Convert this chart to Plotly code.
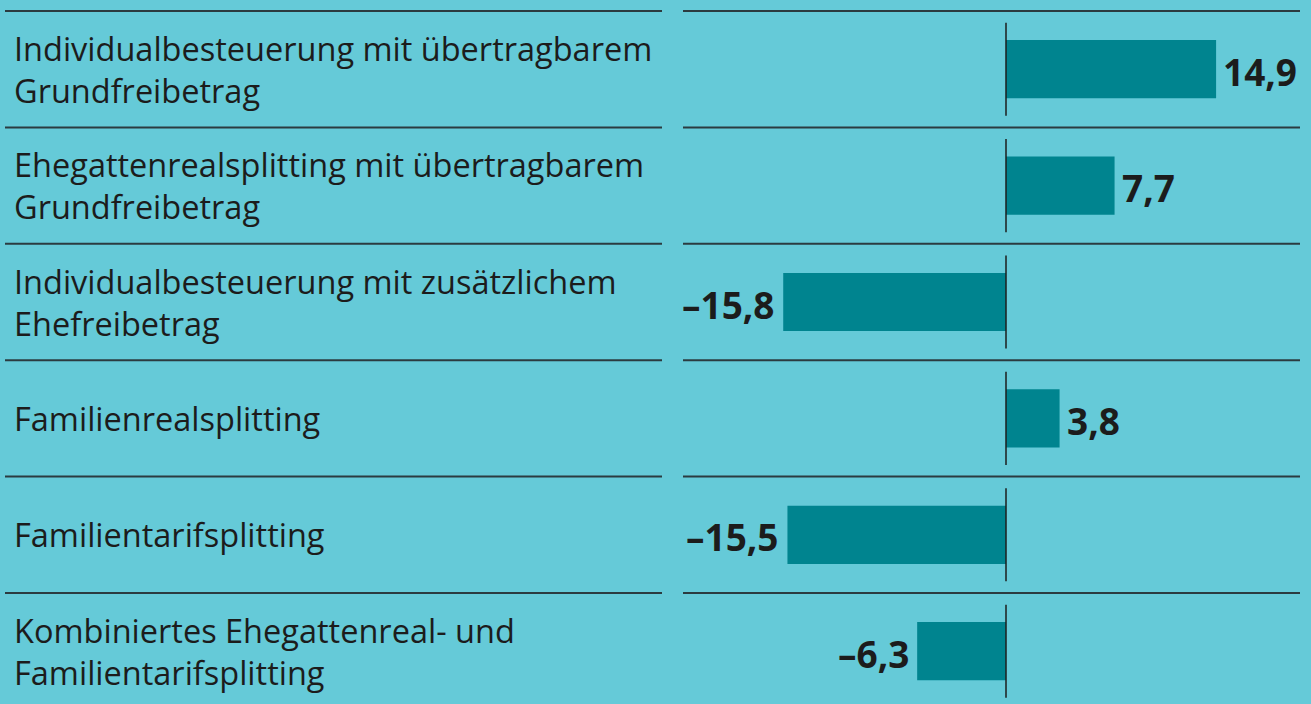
import plotly.graph_objects as go

categories = [
    "Individualbesteuerung mit übertragbarem<br>Grundfreibetrag",
    "Ehegattenrealsplitting mit übertragbarem<br>Grundfreibetrag",
    "Individualbesteuerung mit zusätzlichem<br>Ehefreibetrag",
    "Familienrealsplitting",
    "Familientarifsplitting",
    "Kombiniertes Ehegattenreal- und<br>Familientarifsplitting",
]
values = [14.9, 7.7, -15.8, 3.8, -15.5, -6.3]

BG = "#65CAD8"
BAR = "#00848F"
INK = "#1c1c1c"
LINE = "#2b3b40"
W, H = 1311, 704
PX_PER_UNIT = 14.1
ZERO_PX = 1006
ROW_H = 116.4
FIRST_CENTER = 69.2

def fmt(v):
    return f"{v:.1f}".replace(".", ",").replace("-", "\u2013")

idx = list(range(len(values)))

fig = go.Figure()
fig.add_trace(go.Bar(
    x=values, y=idx, orientation="h",
    marker=dict(color=BAR, line=dict(width=0)),
    width=0.5, hoverinfo="skip",
))

annotations = []
shapes = []
for i, (cat, v) in enumerate(zip(categories, values)):
    annotations.append(dict(
        x=12 / W, xref="paper", y=i, yref="y", text=cat, showarrow=False,
        xanchor="left", yanchor="middle", align="left",
        font=dict(family="Open Sans", size=32.5, color=INK),
    ))
    annotations.append(dict(
        x=v, xref="x", y=i, yref="y", text=f"<b>{fmt(v)}</b>", showarrow=False,
        xanchor="left" if v >= 0 else "right", yanchor="middle",
        xshift=5 if v >= 0 else -6, yshift=-2,
        font=dict(family="Open Sans", size=37, color=INK),
    ))
    shapes.append(dict(type="line", xref="x", yref="y", x0=0, x1=0,
                       y0=i - 0.4, y1=i + 0.4, line=dict(color=INK, width=1.5)))

for i in range(len(values) + 1):
    yb = i - 0.5
    shapes.append(dict(type="line", xref="paper", yref="y", x0=5 / W, x1=662 / W,
                       y0=yb, y1=yb, line=dict(color=LINE, width=2)))
    shapes.append(dict(type="line", xref="paper", yref="y", x0=683 / W, x1=1300 / W,
                       y0=yb, y1=yb, line=dict(color=LINE, width=2)))

x_min = -ZERO_PX / PX_PER_UNIT
x_max = (W - ZERO_PX) / PX_PER_UNIT
y_top = (0 - FIRST_CENTER) / ROW_H
y_bot = (H - FIRST_CENTER) / ROW_H

fig.update_layout(
    width=W, height=H,
    margin=dict(l=0, r=0, t=0, b=0),
    paper_bgcolor=BG, plot_bgcolor=BG,
    showlegend=False,
    xaxis=dict(range=[x_min, x_max], visible=False, fixedrange=True),
    yaxis=dict(range=[y_bot, y_top], visible=False, fixedrange=True),
    annotations=annotations, shapes=shapes,
)

fig.write_html(
    "out.html",
    config={"displayModeBar": False},
    post_script="document.body.style.margin='0';document.body.style.padding='0';"
                "document.body.style.overflow='hidden';",
)
